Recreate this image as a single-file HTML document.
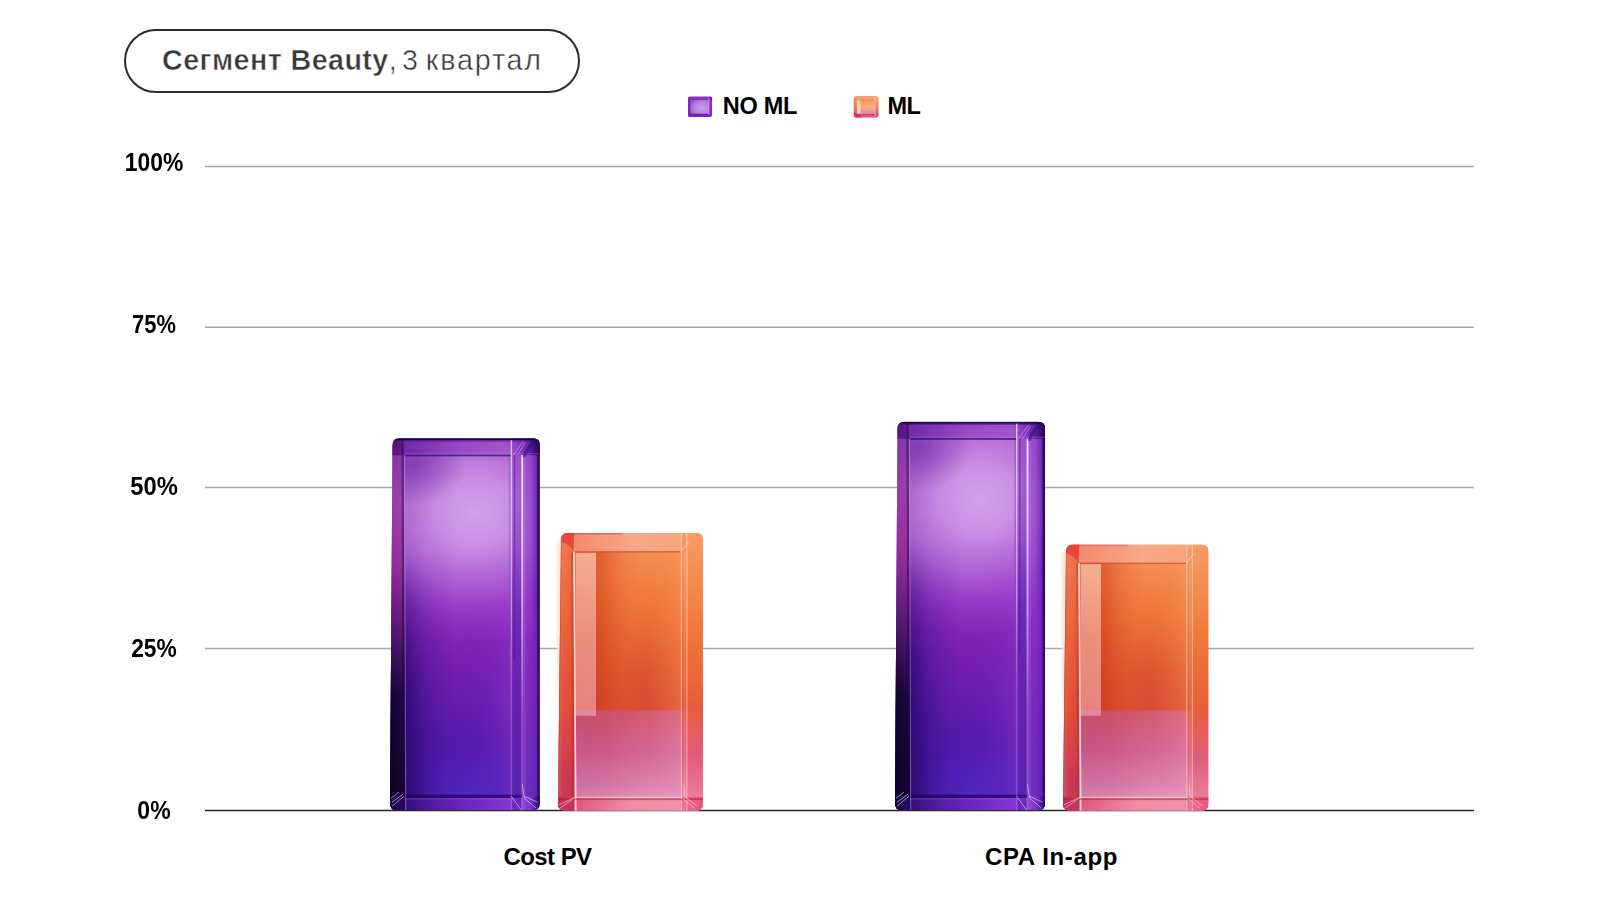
<!DOCTYPE html>
<html lang="ru">
<head>
<meta charset="utf-8">
<title>Сегмент Beauty, 3 квартал</title>
<style>
  html, body { margin:0; padding:0; background:#fff; }
  body { width:1600px; height:900px; position:relative; overflow:hidden;
         font-family:"Liberation Sans", sans-serif; color:#000; }
  .abs { position:absolute; white-space:nowrap; line-height:1; }
  .pill { position:absolute; left:124.300px; top:29.300px; width:451.800px; height:59.600px;
          border:2.100px solid #2c2c2c; border-radius:33px; box-sizing:content-box; }
  .title { left:162px; top:45.800px; font-size:28.700px; color:#383838; transform-origin:0 0; }
  .title b { font-weight:700; letter-spacing:0.42px; -webkit-text-stroke:0.5px #fff; }
  .title span { font-weight:400; letter-spacing:1.83px; -webkit-text-stroke:0.4px #fff; }
  .ylab { font-weight:700; font-size:25px; width:100px; text-align:center; left:104px; }
  .xlab { font-weight:700; font-size:24px; text-align:center; width:200px; }
  .leg  { font-weight:700; font-size:23.500px; }
  svg { position:absolute; left:0; top:0; }
</style>
</head>
<body>
<div class="pill"></div>
<div class="abs title"><b>Сегмент Beauty</b><span style="word-spacing:-6.360px">, </span><span style="word-spacing:-3.700px">3 </span><span>квартал</span></div>

<svg width="1600" height="900" viewBox="0 0 1600 900">
  <defs>
  <!-- DEFS -->
    <linearGradient id="pV" x1="0" y1="0" x2="0" y2="1">
      <stop offset="0" stop-color="#9640bc"/>
      <stop offset="0.08" stop-color="#9c48c4"/>
      <stop offset="0.30" stop-color="#a046ca"/>
      <stop offset="0.46" stop-color="#8e2cc0"/>
      <stop offset="0.60" stop-color="#7a20b4"/>
      <stop offset="0.80" stop-color="#581aaa"/>
      <stop offset="0.94" stop-color="#4a1cae"/>
      <stop offset="1" stop-color="#5622b8"/>
    </linearGradient>
    <radialGradient id="pGlow" cx="0.56" cy="0.20" r="0.5" gradientTransform="translate(0.56 0.20) scale(2.1 0.7) translate(-0.56 -0.20)">
      <stop offset="0" stop-color="#d8aaee" stop-opacity="0.9"/>
      <stop offset="0.25" stop-color="#d4a2ea" stop-opacity="0.8"/>
      <stop offset="0.55" stop-color="#c486e0" stop-opacity="0.5"/>
      <stop offset="0.8" stop-color="#b066d4" stop-opacity="0.2"/>
      <stop offset="1" stop-color="#a050cc" stop-opacity="0"/>
    </radialGradient>
    <linearGradient id="pLeft" x1="0" y1="0" x2="1" y2="0">
      <stop offset="0" stop-color="#0c0220" stop-opacity="1"/>
      <stop offset="0.035" stop-color="#1c0644" stop-opacity="0.9"/>
      <stop offset="0.09" stop-color="#2a0a66" stop-opacity="0.6"/>
      <stop offset="0.25" stop-color="#34108a" stop-opacity="0.2"/>
      <stop offset="0.45" stop-color="#3a1080" stop-opacity="0"/>
    </linearGradient>
    <linearGradient id="pLeftMask" x1="0" y1="0" x2="0" y2="1">
      <stop offset="0" stop-color="#fff" stop-opacity="0.1"/>
      <stop offset="0.35" stop-color="#fff" stop-opacity="0.2"/>
      <stop offset="0.6" stop-color="#fff" stop-opacity="0.75"/>
      <stop offset="1" stop-color="#fff" stop-opacity="1"/>
    </linearGradient>
    <linearGradient id="pRight" x1="0" y1="0" x2="1" y2="0">
      <stop offset="0.79" stop-color="#8a3ccc" stop-opacity="0"/>
      <stop offset="0.80" stop-color="#8a3ccc" stop-opacity="0.5"/>
      <stop offset="0.93" stop-color="#8434c8" stop-opacity="0.6"/>
      <stop offset="0.975" stop-color="#5a1cae" stop-opacity="0.8"/>
      <stop offset="1" stop-color="#14044c" stop-opacity="1"/>
    </linearGradient>
    <linearGradient id="pMagenta" x1="0" y1="0" x2="0" y2="1">
      <stop offset="0" stop-color="#8c2a9c" stop-opacity="0.3"/>
      <stop offset="0.3" stop-color="#9a2896" stop-opacity="0.8"/>
      <stop offset="0.5" stop-color="#8a2494" stop-opacity="0.5"/>
      <stop offset="0.7" stop-color="#8a2494" stop-opacity="0.0"/>
    </linearGradient>
    <linearGradient id="lineV" x1="0" y1="0" x2="0" y2="1">
      <stop offset="0" stop-color="#fff" stop-opacity="0.85"/>
      <stop offset="0.45" stop-color="#f4e4fc" stop-opacity="0.6"/>
      <stop offset="0.7" stop-color="#d8b8f0" stop-opacity="0.3"/>
      <stop offset="1" stop-color="#d0a8f0" stop-opacity="0.3"/>
    </linearGradient>
    <radialGradient id="pCorner" cx="0.16" cy="0.07" r="0.5" gradientTransform="translate(0.16 0.07) scale(0.7 0.22) translate(-0.16 -0.07)">
      <stop offset="0" stop-color="#5a1a9c" stop-opacity="0.5"/>
      <stop offset="1" stop-color="#5a1a9c" stop-opacity="0"/>
    </radialGradient>

    <linearGradient id="pStripe" x1="0" y1="0" x2="0" y2="1">
      <stop offset="0.15" stop-color="#42129a" stop-opacity="0"/>
      <stop offset="0.5" stop-color="#42129a" stop-opacity="0.35"/>
      <stop offset="1" stop-color="#42129a" stop-opacity="0.4"/>
    </linearGradient>
    <linearGradient id="pLeftDark" x1="0" y1="0" x2="0" y2="1">
      <stop offset="0.3" stop-color="#0c0224" stop-opacity="0"/>
      <stop offset="0.6" stop-color="#0c0224" stop-opacity="0.45"/>
      <stop offset="1" stop-color="#0c0224" stop-opacity="0.8"/>
    </linearGradient>
    <linearGradient id="pRightMask" x1="0" y1="0" x2="0" y2="1">
      <stop offset="0" stop-color="#fff" stop-opacity="1"/>
      <stop offset="0.4" stop-color="#fff" stop-opacity="0.9"/>
      <stop offset="0.65" stop-color="#fff" stop-opacity="0.45"/>
      <stop offset="1" stop-color="#fff" stop-opacity="0.5"/>
    </linearGradient>
    <linearGradient id="pEdge" x1="0" y1="0" x2="1" y2="0">
      <stop offset="0" stop-color="#14044c" stop-opacity="0"/>
      <stop offset="1" stop-color="#14044c" stop-opacity="0.85"/>
    </linearGradient>
    <linearGradient id="pTop" x1="0" y1="0" x2="1" y2="0">
      <stop offset="0" stop-color="#4c0c6c" stop-opacity="0.85"/>
      <stop offset="0.085" stop-color="#5c1484" stop-opacity="0.8"/>
      <stop offset="0.1" stop-color="#6c28a4" stop-opacity="0.85"/>
      <stop offset="0.45" stop-color="#8c3cbc" stop-opacity="0.7"/>
      <stop offset="0.8" stop-color="#9c4cc8" stop-opacity="0.65"/>
      <stop offset="0.9" stop-color="#6a24b0" stop-opacity="0.8"/>
      <stop offset="1" stop-color="#1c0650" stop-opacity="0.95"/>
    </linearGradient>
    <linearGradient id="pBot" x1="0" y1="0" x2="1" y2="0">
      <stop offset="0" stop-color="#16043c" stop-opacity="0.9"/>
      <stop offset="0.1" stop-color="#34107c" stop-opacity="0.75"/>
      <stop offset="0.4" stop-color="#6a20b8" stop-opacity="0.7"/>
      <stop offset="0.8" stop-color="#9038d8" stop-opacity="0.75"/>
      <stop offset="0.93" stop-color="#8a3cd8" stop-opacity="0.7"/>
      <stop offset="1" stop-color="#1a0660" stop-opacity="0.9"/>
    </linearGradient>
    <linearGradient id="pHoriz" x1="0" y1="0" x2="1" y2="0">
      <stop offset="0.08" stop-color="#1a0558" stop-opacity="0.7"/>
      <stop offset="0.22" stop-color="#2a0a78" stop-opacity="0.3"/>
      <stop offset="0.45" stop-color="#5a20b0" stop-opacity="0"/>
      <stop offset="0.8" stop-color="#9840d8" stop-opacity="0.35"/>
      <stop offset="1" stop-color="#9840d8" stop-opacity="0.35"/>
    </linearGradient>
    <linearGradient id="pLowMask" x1="0" y1="0" x2="0" y2="1">
      <stop offset="0.3" stop-color="#fff" stop-opacity="0"/>
      <stop offset="0.7" stop-color="#fff" stop-opacity="1"/>
      <stop offset="1" stop-color="#fff" stop-opacity="1"/>
    </linearGradient>
    <radialGradient id="pBlue" cx="0.55" cy="0.94" r="0.5" gradientTransform="translate(0.55 0.94) scale(0.8 0.2) translate(-0.55 -0.94)">
      <stop offset="0" stop-color="#5430d0" stop-opacity="0.42"/>
      <stop offset="1" stop-color="#5a34d8" stop-opacity="0"/>
    </radialGradient>
    <linearGradient id="oLeft" x1="0" y1="0" x2="0" y2="1">
      <stop offset="0" stop-color="#f07c50"/>
      <stop offset="0.35" stop-color="#ea6038"/>
      <stop offset="0.62" stop-color="#e04a38"/>
      <stop offset="0.85" stop-color="#c83456"/>
      <stop offset="1" stop-color="#c0305c"/>
    </linearGradient>
    <linearGradient id="oCream" x1="0" y1="0" x2="0" y2="1">
      <stop offset="0" stop-color="#fdebdc" stop-opacity="0.9"/>
      <stop offset="0.6" stop-color="#fde4d4" stop-opacity="0.8"/>
      <stop offset="1" stop-color="#fde4d4" stop-opacity="0"/>
    </linearGradient>
    <linearGradient id="oBot" x1="0" y1="0" x2="1" y2="0">
      <stop offset="0" stop-color="#c02c54"/>
      <stop offset="0.12" stop-color="#cc3860"/>
      <stop offset="0.14" stop-color="#e05878"/>
      <stop offset="0.5" stop-color="#f08ca4"/>
      <stop offset="0.84" stop-color="#f090a8"/>
      <stop offset="0.86" stop-color="#ec6888"/>
      <stop offset="1" stop-color="#e85880"/>
    </linearGradient>
    <linearGradient id="oLeftH" x1="0" y1="0" x2="1" y2="0">
      <stop offset="0" stop-color="#f8a878" stop-opacity="0.5"/>
      <stop offset="0.4" stop-color="#f08050" stop-opacity="0.1"/>
      <stop offset="1" stop-color="#c83020" stop-opacity="0.25"/>
    </linearGradient>
    <linearGradient id="oRight" x1="0" y1="0" x2="0" y2="1">
      <stop offset="0" stop-color="#f69c64"/>
      <stop offset="0.35" stop-color="#f07838"/>
      <stop offset="0.62" stop-color="#e85c38"/>
      <stop offset="0.8" stop-color="#e25c78"/>
      <stop offset="1" stop-color="#ee88a8"/>
    </linearGradient>
    <linearGradient id="oTop" x1="0" y1="0" x2="1" y2="0">
      <stop offset="0" stop-color="#f48a70"/>
      <stop offset="0.6" stop-color="#f8a888"/>
      <stop offset="1" stop-color="#f8a47c"/>
    </linearGradient>
    <linearGradient id="oGloss" x1="0" y1="0" x2="0" y2="1">
      <stop offset="0" stop-color="#fcd0bc" stop-opacity="0.7"/>
      <stop offset="0.5" stop-color="#f8b8b0" stop-opacity="0.62"/>
      <stop offset="1" stop-color="#f4b0c0" stop-opacity="0.6"/>
    </linearGradient>
    <linearGradient id="oInnerH" x1="0" y1="0" x2="1" y2="0">
      <stop offset="0" stop-color="#cc3414" stop-opacity="0.55"/>
      <stop offset="0.25" stop-color="#d03818" stop-opacity="0.5"/>
      <stop offset="0.65" stop-color="#f08040" stop-opacity="0"/>
      <stop offset="1" stop-color="#fca060" stop-opacity="0.35"/>
    </linearGradient>
    <linearGradient id="oPinkH" x1="0" y1="0" x2="1" y2="0">
      <stop offset="0" stop-color="#b04488" stop-opacity="0.28"/>
      <stop offset="0.3" stop-color="#b04488" stop-opacity="0.18"/>
      <stop offset="0.7" stop-color="#e090c0" stop-opacity="0.15"/>
      <stop offset="1" stop-color="#f0a0c8" stop-opacity="0.35"/>
    </linearGradient>
  <!-- /DEFS -->
  </defs>
  <!-- grid -->
  <g stroke="#a8a8a8" stroke-width="1.4">
    <line x1="205" y1="166.5" x2="1474" y2="166.5"/>
    <line x1="205" y1="327.3" x2="1474" y2="327.3"/>
    <line x1="205" y1="487.5" x2="1474" y2="487.5"/>
    <line x1="205" y1="648.5" x2="1474" y2="648.5"/>
  </g>
  <line x1="205" y1="810.600" x2="1474" y2="810.600" stroke="#262626" stroke-width="1.500"/>
  <!-- BARS -->
  <clipPath id="pc1"><path d="M399.5 438.2 H532.8 Q539.8 438.2 539.8 445.2 V803.2 Q539.8 810.2 532.8 810.2 H397.0 Q390.0 810.2 390.0 803.2 L392.5 445.2 Q392.5 438.2 399.5 438.2 Z"/></clipPath>
  <g clip-path="url(#pc1)">
  <rect x="390.0" y="438.2" width="149.79999999999995" height="372.00000000000006" fill="url(#pV)"/>
  <rect x="390.0" y="438.2" width="149.79999999999995" height="372.00000000000006" fill="url(#pGlow)"/>
  <rect x="390.0" y="438.2" width="149.79999999999995" height="372.00000000000006" fill="url(#pCorner)"/>
  <mask id="plm1"><rect x="390.0" y="438.2" width="149.79999999999995" height="372.00000000000006" fill="url(#pLowMask)"/></mask>
  <rect x="390.0" y="438.2" width="149.79999999999995" height="372.00000000000006" fill="url(#pHoriz)" mask="url(#plm1)"/>
  <rect x="390.0" y="438.2" width="149.79999999999995" height="372.00000000000006" fill="url(#pBlue)"/>
  <mask id="pm1"><rect x="390.0" y="438.2" width="149.79999999999995" height="372.00000000000006" fill="url(#pLeftMask)"/></mask>
  <rect x="390.0" y="438.2" width="149.79999999999995" height="372.00000000000006" fill="url(#pLeft)" mask="url(#pm1)"/>
  <rect x="390.0" y="438.2" width="15.5" height="372.00000000000006" fill="url(#pLeftDark)"/>
  <rect x="390.0" y="438.2" width="14.5" height="372.00000000000006" fill="url(#pMagenta)"/>
  <mask id="prm1"><rect x="390.0" y="438.2" width="149.79999999999995" height="372.00000000000006" fill="url(#pRightMask)"/></mask>
  <rect x="390.0" y="438.2" width="149.79999999999995" height="372.00000000000006" fill="url(#pRight)" mask="url(#prm1)"/>
  <rect x="536.3" y="438.2" width="3.5" height="372.00000000000006" fill="url(#pEdge)"/>
  <rect x="390.0" y="438.2" width="149.79999999999995" height="17" fill="url(#pTop)"/>
  <rect x="390.0" y="438.2" width="149.79999999999995" height="1.9" fill="#10033c" opacity="0.95"/>
  <rect x="390.0" y="440.09999999999997" width="149.79999999999995" height="1.4" fill="#2c0a6c" opacity="0.5"/>
  <rect x="390.0" y="796.2" width="149.79999999999995" height="14.0" fill="url(#pBot)"/>
  <rect x="404.5" y="794.7" width="117.79999999999995" height="3.4" fill="#1a0556" opacity="0.75"/>
  <rect x="404.5" y="798.4000000000001" width="117.79999999999995" height="1" fill="#c090ec" opacity="0.3"/>
  <rect x="404.5" y="454.59999999999997" width="106.79999999999995" height="1.8" fill="#2a0c78" opacity="0.7"/>
  <rect x="404.5" y="453.2" width="135.29999999999995" height="1.1" fill="#c088e8" opacity="0.35"/>
  <path d="M404.5 455.2 L405.7 810.2" stroke="#d8a8f0" stroke-width="1.2" opacity="0.42" fill="none"/>
  <path d="M402.5 440.2 L403.7 810.2" stroke="#1c0548" stroke-width="2.2" opacity="0.45" fill="none"/>
  <rect x="510.69999999999993" y="440.2" width="1.4" height="372.00000000000006" fill="url(#lineV)" opacity="0.8"/>
  <rect x="512.3" y="438.2" width="9.0" height="372.00000000000006" fill="url(#pStripe)"/>
  <rect x="513.8" y="455.2" width="1.4" height="204.60000000000005" fill="#3c148c" opacity="0.45"/>
  <rect x="521.3" y="455.2" width="1.9" height="372.00000000000006" fill="url(#lineV)" opacity="1"/>
  <rect x="524.3" y="455.2" width="1" height="372.00000000000006" fill="#e8c8f8" opacity="0.2"/>
  <path d="M511.29999999999995 796.2 l10 14 M522.3 784.2 l2 14 l12 10 M524.3 796.2 l13 6 M392.0 806.2 l12 -10 M392.0 802.2 l11 -8 M391.0 798.2 l8 -6" stroke="#ecd4fa" stroke-width="1" fill="none" opacity="0.6"/>
  <path d="M513.3 455.2 L523.3 441.2 M517.3 455.2 L525.3 442.2" stroke="#e8ccf8" stroke-width="0.9" fill="none" opacity="0.5"/>
  <path d="M536.8 440.2 q-9 5 -13 17" stroke="#2a0a70" stroke-width="3" fill="none" opacity="0.5"/>
  </g>
  <clipPath id="oc2"><path d="M568.0 533 H696 Q703 533 703 540 V803.8 Q703 810.8 696 810.8 H565.0 Q558.0 810.8 558.0 803.8 L561.0 540 Q561.0 533 568.0 533 Z"/></clipPath>
  <linearGradient id="ov2" gradientUnits="userSpaceOnUse" x1="0" y1="533" x2="0" y2="810.8">
    <stop offset="0" stop-color="#f6a274"/>
    <stop offset="0.0673" stop-color="#f58e52"/>
    <stop offset="0.2671" stop-color="#ee7438"/>
    <stop offset="0.4942" stop-color="#de5430"/>
    <stop offset="0.6328" stop-color="#d84a32"/>
    <stop offset="0.6436" stop-color="#d4525e"/>
    <stop offset="0.7840" stop-color="#d05e8a"/>
    <stop offset="0.9100" stop-color="#dc80ac"/>
    <stop offset="0.9496" stop-color="#e494ba"/>
    <stop offset="1" stop-color="#f090a8"/>
  </linearGradient>
  <path d="M559.3 538 Q556.3 541 556.3 547 L556.9 685.79 L559.6999999999999 755.24 L561.0 755.24 L563.0 536 Z" fill="url(#oCream)"/>
  <g clip-path="url(#oc2)">
  <rect x="556.3" y="533" width="146.70000000000005" height="277.79999999999995" fill="url(#ov2)"/>
  <rect x="574.0" y="551.7" width="106.80000000000004" height="158.59999999999997" fill="url(#oInnerH)"/>
  <rect x="574.0" y="710.3" width="106.80000000000004" height="100.5" fill="url(#oPinkH)"/>
  <rect x="556.3" y="533" width="17.7" height="277.79999999999995" fill="url(#oLeft)"/>
  <rect x="556.3" y="533" width="17.7" height="277.79999999999995" fill="url(#oLeftH)"/>
  <path d="M561.0 533 L558.0 810.8" stroke="#b01020" stroke-width="1.6" opacity="0.35" fill="none"/>
  <rect x="686.2" y="533" width="16.80000000000001" height="277.79999999999995" fill="url(#oRight)"/>
  <rect x="680.8" y="533" width="5.3999999999999915" height="277.79999999999995" fill="url(#oRight)" opacity="0.6"/>
  <rect x="574.0" y="533" width="106.80000000000004" height="18.7" fill="url(#oTop)"/>
  <path d="M556.3 533 H574.5 L573.0 549.7 Q568.0 543.7 561.0 542 Z" fill="#e4403a" opacity="0.85"/>
  <rect x="556.3" y="533" width="66.01500000000003" height="1.6" fill="#d83848" opacity="0.45"/>
  <rect x="556.3" y="796.8" width="146.70000000000005" height="14.0" fill="url(#oBot)"/>
  <rect x="575.5" y="552.7" width="20.500000000000004" height="163.09999999999997" fill="url(#oGloss)"/>
  <rect x="574.0" y="551.0" width="106.80000000000004" height="1.5" fill="#b84428" opacity="0.55"/>
  <path d="M574.0 551.7 L575.7 810.8" stroke="#fde8e0" stroke-width="1.7" opacity="0.9" fill="none"/>
  <path d="M572.0 551.7 L573.7 810.8" stroke="#b02420" stroke-width="1.8" opacity="0.3" fill="none"/>
  <rect x="680.8" y="533" width="1.2" height="277.79999999999995" fill="#fcdcc8" opacity="0.65"/>
  <rect x="683.8" y="551.7" width="1" height="277.79999999999995" fill="#fcdcc8" opacity="0.3"/>
  <rect x="686.2" y="533" width="1.2" height="277.79999999999995" fill="#fde8dc" opacity="0.55"/>
  <rect x="574.0" y="796.8" width="106.80000000000004" height="1.3" fill="#fbd8dc" opacity="0.8"/>
  <rect x="556.3" y="798.3" width="146.70000000000005" height="1.8" fill="#b0182c" opacity="0.5"/>
  <path d="M559.0 808.8 l15.7 -11 M559.0 804.8 l14.7 -7 M575.0 799.8 V810.8 M680.8 796.8 l14 12 M683.8 784.8 l1 12 l12 9" stroke="#fcd8e0" stroke-width="1" fill="none" opacity="0.6"/>
  <path d="M680.8 551.7 l8 -10" stroke="#fde8dc" stroke-width="1" fill="none" opacity="0.6"/>
  </g>
  <clipPath id="pc3"><path d="M904.5 421.7 H1038.1 Q1045.1 421.7 1045.1 428.7 V803.2 Q1045.1 810.2 1038.1 810.2 H902.0 Q895.0 810.2 895.0 803.2 L897.5 428.7 Q897.5 421.7 904.5 421.7 Z"/></clipPath>
  <g clip-path="url(#pc3)">
  <rect x="895.0" y="421.7" width="150.0999999999999" height="388.50000000000006" fill="url(#pV)"/>
  <rect x="895.0" y="421.7" width="150.0999999999999" height="388.50000000000006" fill="url(#pGlow)"/>
  <rect x="895.0" y="421.7" width="150.0999999999999" height="388.50000000000006" fill="url(#pCorner)"/>
  <mask id="plm3"><rect x="895.0" y="421.7" width="150.0999999999999" height="388.50000000000006" fill="url(#pLowMask)"/></mask>
  <rect x="895.0" y="421.7" width="150.0999999999999" height="388.50000000000006" fill="url(#pHoriz)" mask="url(#plm3)"/>
  <rect x="895.0" y="421.7" width="150.0999999999999" height="388.50000000000006" fill="url(#pBlue)"/>
  <mask id="pm3"><rect x="895.0" y="421.7" width="150.0999999999999" height="388.50000000000006" fill="url(#pLeftMask)"/></mask>
  <rect x="895.0" y="421.7" width="150.0999999999999" height="388.50000000000006" fill="url(#pLeft)" mask="url(#pm3)"/>
  <rect x="895.0" y="421.7" width="15.5" height="388.50000000000006" fill="url(#pLeftDark)"/>
  <rect x="895.0" y="421.7" width="14.5" height="388.50000000000006" fill="url(#pMagenta)"/>
  <mask id="prm3"><rect x="895.0" y="421.7" width="150.0999999999999" height="388.50000000000006" fill="url(#pRightMask)"/></mask>
  <rect x="895.0" y="421.7" width="150.0999999999999" height="388.50000000000006" fill="url(#pRight)" mask="url(#prm3)"/>
  <rect x="1041.6" y="421.7" width="3.5" height="388.50000000000006" fill="url(#pEdge)"/>
  <rect x="895.0" y="421.7" width="150.0999999999999" height="17" fill="url(#pTop)"/>
  <rect x="895.0" y="421.7" width="150.0999999999999" height="1.9" fill="#10033c" opacity="0.95"/>
  <rect x="895.0" y="423.59999999999997" width="150.0999999999999" height="1.4" fill="#2c0a6c" opacity="0.5"/>
  <rect x="895.0" y="796.2" width="150.0999999999999" height="14.0" fill="url(#pBot)"/>
  <rect x="909.5" y="794.7" width="118.09999999999991" height="3.4" fill="#1a0556" opacity="0.75"/>
  <rect x="909.5" y="798.4000000000001" width="118.09999999999991" height="1" fill="#c090ec" opacity="0.3"/>
  <rect x="909.5" y="438.09999999999997" width="107.09999999999991" height="1.8" fill="#2a0c78" opacity="0.7"/>
  <rect x="909.5" y="436.7" width="135.5999999999999" height="1.1" fill="#c088e8" opacity="0.35"/>
  <path d="M909.5 438.7 L910.7 810.2" stroke="#d8a8f0" stroke-width="1.2" opacity="0.42" fill="none"/>
  <path d="M907.5 423.7 L908.7 810.2" stroke="#1c0548" stroke-width="2.2" opacity="0.45" fill="none"/>
  <rect x="1015.9999999999999" y="423.7" width="1.4" height="388.50000000000006" fill="url(#lineV)" opacity="0.8"/>
  <rect x="1017.5999999999999" y="421.7" width="9.0" height="388.50000000000006" fill="url(#pStripe)"/>
  <rect x="1019.0999999999999" y="438.7" width="1.4" height="213.67500000000004" fill="#3c148c" opacity="0.45"/>
  <rect x="1026.6" y="438.7" width="1.9" height="388.50000000000006" fill="url(#lineV)" opacity="1"/>
  <rect x="1029.6" y="438.7" width="1" height="388.50000000000006" fill="#e8c8f8" opacity="0.2"/>
  <path d="M1016.5999999999999 796.2 l10 14 M1027.6 784.2 l2 14 l12 10 M1029.6 796.2 l13 6 M897.0 806.2 l12 -10 M897.0 802.2 l11 -8 M896.0 798.2 l8 -6" stroke="#ecd4fa" stroke-width="1" fill="none" opacity="0.6"/>
  <path d="M1018.5999999999999 438.7 L1028.6 424.7 M1022.5999999999999 438.7 L1030.6 425.7" stroke="#e8ccf8" stroke-width="0.9" fill="none" opacity="0.5"/>
  <path d="M1042.1 423.7 q-9 5 -13 17" stroke="#2a0a70" stroke-width="3" fill="none" opacity="0.5"/>
  </g>
  <clipPath id="oc4"><path d="M1073.0 544.5 H1201.5 Q1208.5 544.5 1208.5 551.5 V803.8 Q1208.5 810.8 1201.5 810.8 H1070.0 Q1063.0 810.8 1063.0 803.8 L1066.0 551.5 Q1066.0 544.5 1073.0 544.5 Z"/></clipPath>
  <linearGradient id="ov4" gradientUnits="userSpaceOnUse" x1="0" y1="544.5" x2="0" y2="810.8">
    <stop offset="0" stop-color="#f6a274"/>
    <stop offset="0.0702" stop-color="#f58e52"/>
    <stop offset="0.2636" stop-color="#ee7438"/>
    <stop offset="0.4724" stop-color="#de5430"/>
    <stop offset="0.6170" stop-color="#d84a32"/>
    <stop offset="0.6282" stop-color="#d4525e"/>
    <stop offset="0.7747" stop-color="#d05e8a"/>
    <stop offset="0.9061" stop-color="#dc80ac"/>
    <stop offset="0.9474" stop-color="#e494ba"/>
    <stop offset="1" stop-color="#f090a8"/>
  </linearGradient>
  <path d="M1064.3 549.5 Q1061.3 552.5 1061.3 558.5 L1061.8999999999999 690.9649999999999 L1064.7 757.54 L1066.0 757.54 L1068.0 547.5 Z" fill="url(#oCream)"/>
  <g clip-path="url(#oc4)">
  <rect x="1061.3" y="544.5" width="147.20000000000005" height="266.29999999999995" fill="url(#ov4)"/>
  <rect x="1079.0" y="563.2" width="107.30000000000004" height="147.09999999999997" fill="url(#oInnerH)"/>
  <rect x="1079.0" y="710.3" width="107.30000000000004" height="100.5" fill="url(#oPinkH)"/>
  <rect x="1061.3" y="544.5" width="17.7" height="266.29999999999995" fill="url(#oLeft)"/>
  <rect x="1061.3" y="544.5" width="17.7" height="266.29999999999995" fill="url(#oLeftH)"/>
  <path d="M1066.0 544.5 L1063.0 810.8" stroke="#b01020" stroke-width="1.6" opacity="0.35" fill="none"/>
  <rect x="1191.7" y="544.5" width="16.80000000000001" height="266.29999999999995" fill="url(#oRight)"/>
  <rect x="1186.3" y="544.5" width="5.3999999999999915" height="266.29999999999995" fill="url(#oRight)" opacity="0.6"/>
  <rect x="1079.0" y="544.5" width="107.30000000000004" height="18.7" fill="url(#oTop)"/>
  <path d="M1061.3 544.5 H1079.5 L1078.0 561.2 Q1073.0 555.2 1066.0 553.5 Z" fill="#e4403a" opacity="0.85"/>
  <rect x="1061.3" y="544.5" width="66.24000000000002" height="1.6" fill="#d83848" opacity="0.45"/>
  <rect x="1061.3" y="796.8" width="147.20000000000005" height="14.0" fill="url(#oBot)"/>
  <rect x="1080.5" y="564.2" width="20.500000000000004" height="151.59999999999997" fill="url(#oGloss)"/>
  <rect x="1079.0" y="562.5" width="107.30000000000004" height="1.5" fill="#b84428" opacity="0.55"/>
  <path d="M1079.0 563.2 L1080.7 810.8" stroke="#fde8e0" stroke-width="1.7" opacity="0.9" fill="none"/>
  <path d="M1077.0 563.2 L1078.7 810.8" stroke="#b02420" stroke-width="1.8" opacity="0.3" fill="none"/>
  <rect x="1186.3" y="544.5" width="1.2" height="266.29999999999995" fill="#fcdcc8" opacity="0.65"/>
  <rect x="1189.3" y="563.2" width="1" height="266.29999999999995" fill="#fcdcc8" opacity="0.3"/>
  <rect x="1191.7" y="544.5" width="1.2" height="266.29999999999995" fill="#fde8dc" opacity="0.55"/>
  <rect x="1079.0" y="796.8" width="107.30000000000004" height="1.3" fill="#fbd8dc" opacity="0.8"/>
  <rect x="1061.3" y="798.3" width="147.20000000000005" height="1.8" fill="#b0182c" opacity="0.5"/>
  <path d="M1064.0 808.8 l15.7 -11 M1064.0 804.8 l14.7 -7 M1080.0 799.8 V810.8 M1186.3 796.8 l14 12 M1189.3 784.8 l1 12 l12 9" stroke="#fcd8e0" stroke-width="1" fill="none" opacity="0.6"/>
  <path d="M1186.3 563.2 l8 -10" stroke="#fde8dc" stroke-width="1" fill="none" opacity="0.6"/>
  </g>
  <!-- /BARS -->
  <!-- legend -->
  <linearGradient id="lgP" x1="0" y1="0" x2="0" y2="1">
    <stop offset="0" stop-color="#8a34c0"/><stop offset="0.5" stop-color="#8a30c4"/><stop offset="1" stop-color="#7a22c8"/>
  </linearGradient>
  <radialGradient id="lgPi" cx="0.65" cy="0.6" r="0.75">
    <stop offset="0" stop-color="#cfa0ea"/><stop offset="0.6" stop-color="#b880dc"/><stop offset="1" stop-color="#9450c8"/>
  </radialGradient>
  <linearGradient id="lgO" x1="0" y1="0" x2="0" y2="1">
    <stop offset="0" stop-color="#f8a27a"/><stop offset="0.5" stop-color="#f08458"/><stop offset="0.8" stop-color="#e85c68"/><stop offset="1" stop-color="#e84870"/>
  </linearGradient>
  <linearGradient id="lgOi" x1="0" y1="0" x2="0" y2="1">
    <stop offset="0" stop-color="#f89450"/><stop offset="0.45" stop-color="#f8b080"/><stop offset="0.75" stop-color="#ec98a0"/><stop offset="1" stop-color="#dc80b0"/>
  </linearGradient>
  <g>
    <rect x="688.1" y="96.400" width="24" height="20.700" rx="2.600" fill="url(#lgP)"/>
    <rect x="688.1" y="96.400" width="2" height="20.700" rx="1" fill="#6a1ca8" opacity="0.6"/>
    <rect x="690.4" y="99.400" width="18.400" height="14.400" fill="url(#lgPi)"/>
    <rect x="690.4" y="99.100" width="18.400" height="0.900" fill="#5a1c98" opacity="0.55"/>
    <rect x="708.4" y="98" width="0.900" height="17" fill="#e8d0f8" opacity="0.6"/>
    <path d="M709.5 96.400h0.200a2.400 2.400 0 0 1 2.400 2.400v3l-1.200-3.200z" fill="#2a0a70" opacity="0.8"/>
    <rect x="690.4" y="113.800" width="18.400" height="0.900" fill="#3a1088" opacity="0.5"/>
  </g>
  <g>
    <rect x="853.8" y="96.100" width="24.800" height="21.400" rx="2.800" fill="url(#lgO)"/>
    <rect x="857" y="100" width="17.600" height="14" fill="url(#lgOi)"/>
    <rect x="857" y="100" width="3.400" height="13.600" fill="#fbd8cc" opacity="0.8"/>
    <rect x="853.8" y="98" width="1.600" height="14" fill="#f06038" opacity="0.5"/>
    <rect x="874.6" y="97" width="0.900" height="19" fill="#fde4d8" opacity="0.7"/>
    <rect x="857" y="99.600" width="17.600" height="0.800" fill="#e07048" opacity="0.5"/>
    <rect x="856" y="114" width="19" height="1.200" fill="#c82848" opacity="0.55"/>
    <path d="M853.8 112v2.700a2.800 2.800 0 0 0 2.800 2.800h6l-5.600-3.500z" fill="#d81840" opacity="0.6"/>
  </g>
</svg>

<div class="abs leg" style="left:722.700px; top:95px; letter-spacing:-0.25px;">NO ML</div>
<div class="abs leg" style="left:887.500px; top:95px; letter-spacing:-0.6px;">ML</div>

<div class="abs ylab" style="top:149.500px; transform:scaleX(0.915);">100%</div>
<div class="abs ylab" style="top:311.500px; transform:scaleX(0.875);">75%</div>
<div class="abs ylab" style="top:473.500px; transform:scaleX(0.95);">50%</div>
<div class="abs ylab" style="top:635.500px; transform:scaleX(0.91);">25%</div>
<div class="abs ylab" style="top:797.500px; transform:scaleX(0.92);">0%</div>

<div class="abs xlab" style="left:447.500px; top:844.500px; letter-spacing:-0.55px;">Cost PV</div>
<div class="abs xlab" style="left:951.500px; top:844.500px; letter-spacing:0.65px;">CPA In-app</div>
</body>
</html>
